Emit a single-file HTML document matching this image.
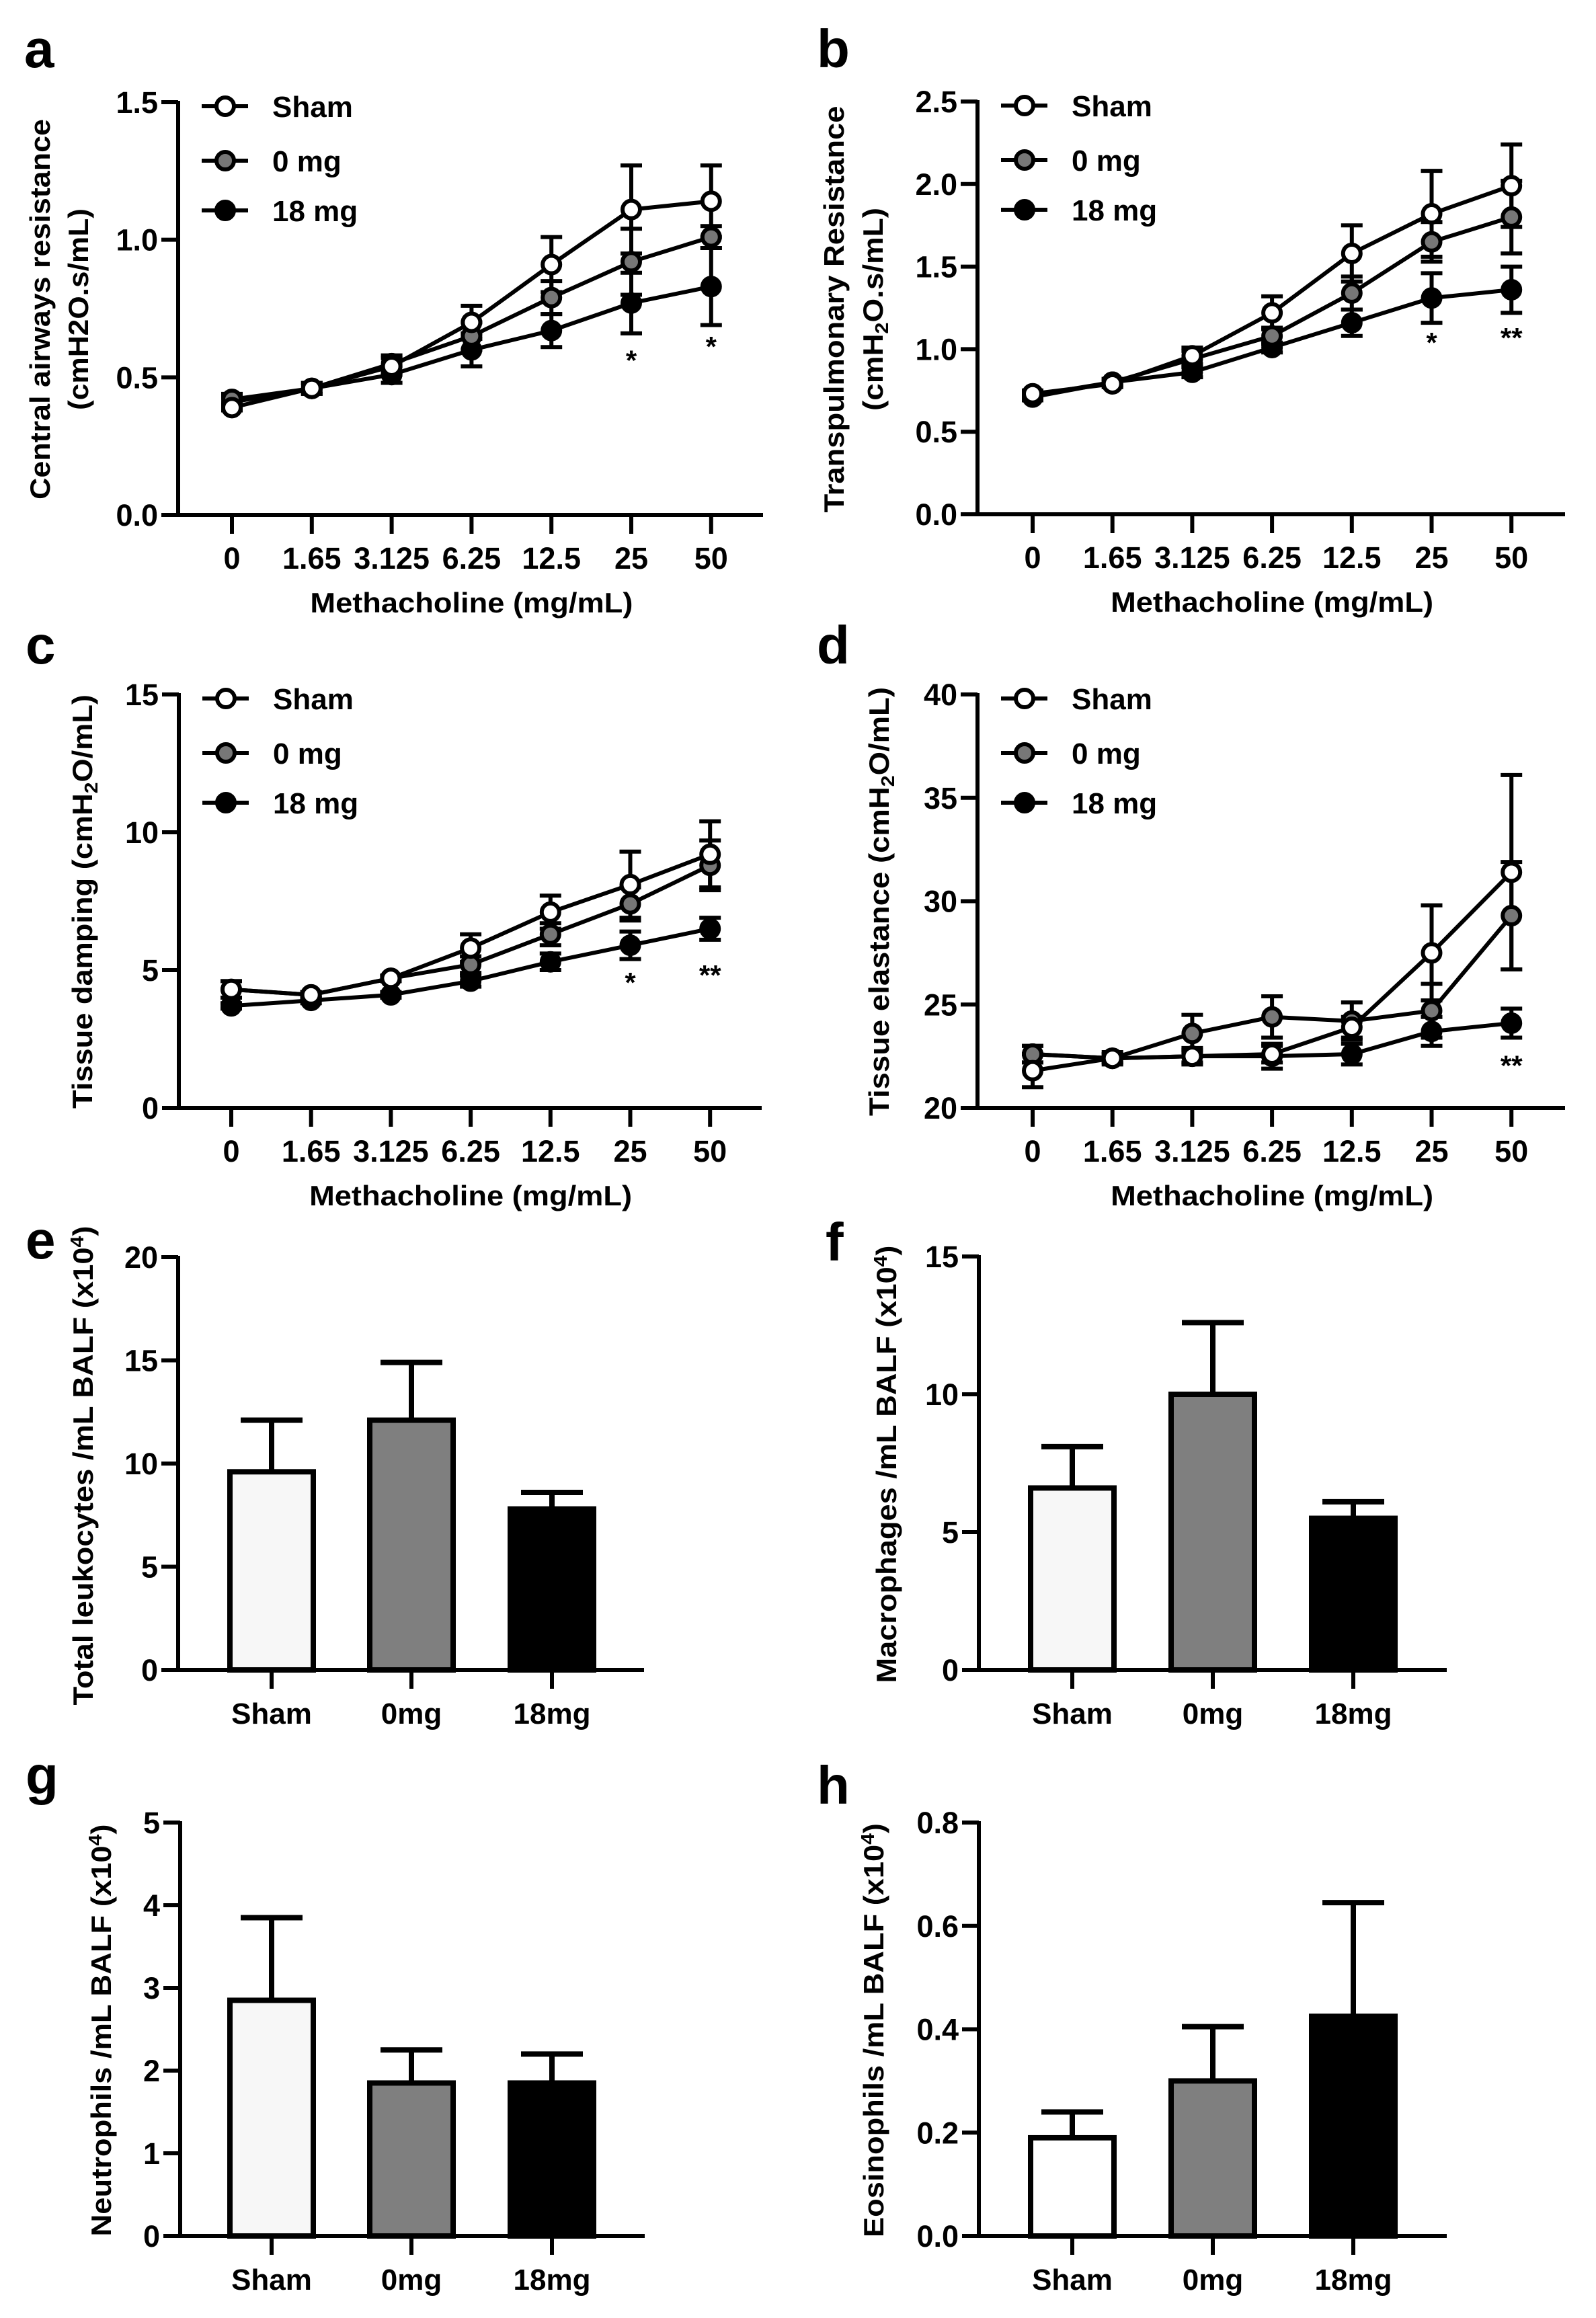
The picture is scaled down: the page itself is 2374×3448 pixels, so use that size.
<!DOCTYPE html>
<html><head><meta charset="utf-8">
<style>
html,body{margin:0;padding:0;background:#fff;}
svg{display:block;}
text{font-family:"Liberation Sans",Arial,sans-serif;font-weight:bold;fill:#000;}
</style></head>
<body>
<svg id="s" width="2374" height="3448" viewBox="0 0 2374 3448" xmlns="http://www.w3.org/2000/svg">
<rect width="2374" height="3448" fill="#fff"/>
</svg>
<script>
const NS="http://www.w3.org/2000/svg";
const S=document.getElementById('s');
function el(t,a,txt){const e=document.createElementNS(NS,t);for(const k in a)e.setAttribute(k,a[k]);if(txt!==undefined)e.textContent=txt;S.appendChild(e);return e;}
function line(x1,y1,x2,y2,w){el('line',{x1,y1,x2,y2,stroke:'#000','stroke-width':w||5});}
function txt(x,y,s,size,anchor,extra){const a={x,y,'font-size':size,'text-anchor':anchor||'middle'};Object.assign(a,extra||{});return el('text',a,s);}
const COL=['#fff','#777','#000'];
const NAMES=['Sham','0 mg','18 mg'];
function ylab(x,cy,lines,len){
  lines.forEach((l,i)=>{
    const t=el('text',{x:0,y:0,'font-size':42,'text-anchor':'middle',transform:`translate(${x[i]},${cy}) rotate(-90)`,textLength:len[i],lengthAdjust:'spacingAndGlyphs'});
    l.forEach(p=>{const ts=document.createElementNS(NS,'tspan');
      if(p.sub){ts.setAttribute('font-size',28);}else{ts.setAttribute('font-size',42);}
      if(p.dy)ts.setAttribute('dy',p.dy);
      ts.textContent=p.t;t.appendChild(ts);});
  });
}
function linePanel(P){
  const {L,yT,yB,x0,step,R,min,max,ticks,data,err,stars,letter,lx,ly}=P;
  const Y=v=>yB-(v-min)/(max-min)*(yB-yT);
  txt(lx,ly,letter,80,'start');
  line(L,yT-2,L,yB+3,6);line(L-2,yB,R,yB,6);
  ticks.forEach(t=>{line(L-25,Y(t),L,Y(t),6);txt(L-30,Y(t)+16,P.fmt(t),45,'end');});
  const xl=['0','1.65','3.125','6.25','12.5','25','50'];
  xl.forEach((s,i)=>{const x=x0+i*step;line(x,yB,x,yB+28,6);txt(x,yB+80,s,45);});
  txt(x0+3*step,yB+145,'Methacholine (mg/mL)',42,'middle',{textLength:480,lengthAdjust:'spacingAndGlyphs'});
  [2,1,0].forEach(k=>{
    data[k].forEach((v,i)=>{const x=x0+i*step;const e=err[k][i];
      line(x,Y(v-e),x,Y(v+e),6);line(x-16,Y(v+e),x+16,Y(v+e),6);line(x-16,Y(v-e),x+16,Y(v-e),6);});
  });
  [2,1,0].forEach(k=>{
    const pts=data[k].map((v,i)=>(x0+i*step)+','+Y(v)).join(' ');
    el('polyline',{points:pts,fill:'none',stroke:'#000','stroke-width':6});
    data[k].forEach((v,i)=>el('circle',{cx:x0+i*step,cy:Y(v),r:13,fill:COL[k],stroke:'#000','stroke-width':6}));
  });
  stars.forEach(s=>txt(x0+s[0]*step,Y(s[1])+22,s[2],42));
  [6,87,161].forEach((o,k)=>{const y=yT+o;line(L+35,y,L+104,y,6);el('circle',{cx:L+70,cy:y,r:13,fill:COL[k],stroke:'#000','stroke-width':6});txt(L+140,y+16,NAMES[k],44,'start');});
}
function barPanel(P){
  const {L,yT,yB,xs,R,max,ticks,vals,errs,letter,lx,ly,cols}=P;
  const Y=v=>yB-v/max*(yB-yT);
  txt(lx,ly,letter,80,'start');
  const hw=62;
  vals.forEach((v,i)=>{const x=xs[i];
    line(x,Y(v),x,Y(errs[i]),8);line(x-46,Y(errs[i]),x+46,Y(errs[i]),8);
    el('rect',{x:x-hw,y:Y(v),width:2*hw,height:yB-Y(v),fill:cols[i],stroke:'#000','stroke-width':8});
  });
  line(L,yT-2,L,yB+3,6);line(L-2,yB,R,yB,6);
  ticks.forEach(t=>{line(L-25,Y(t),L,Y(t),6);txt(L-30,Y(t)+16,P.fmt(t),45,'end');});
  ['Sham','0mg','18mg'].forEach((s,i)=>{line(xs[i],yB,xs[i],yB+28,6);txt(xs[i],yB+80,s,44);});
}
const f1=t=>t.toFixed(1), f0=t=>String(t);
linePanel({L:265,yT:152,yB:766,x0:345,step:118.8,R:1135,min:0,max:1.5,ticks:[0,0.5,1,1.5],fmt:f1,letter:'a',lx:36,ly:100,
 data:[[0.39,0.46,0.54,0.70,0.91,1.11,1.14],[0.42,0.46,0.55,0.65,0.79,0.92,1.01],[0.41,0.46,0.51,0.60,0.67,0.77,0.83]],
 err:[[0.01,0.01,0.03,0.06,0.10,0.16,0.13],[0.02,0.02,0.03,0.05,0.06,0.12,0.04],[0.02,0.02,0.03,0.06,0.06,0.11,0.14]],
 stars:[[5,0.58,'*'],[6,0.63,'*']]});
ylab([74,131],460,[[{t:'Central airways resistance'}],[{t:'(cmH2O.s/mL)'}]],[566,300]);
linePanel({L:1454,yT:151,yB:765,x0:1536,step:118.7,R:2328,min:0,max:2.5,ticks:[0,0.5,1,1.5,2,2.5],fmt:f1,letter:'b',lx:1215,ly:100,
 data:[[0.73,0.79,0.96,1.22,1.58,1.82,1.99],[0.72,0.80,0.94,1.08,1.34,1.65,1.80],[0.71,0.80,0.86,1.01,1.16,1.31,1.36]],
 err:[[0.02,0.02,0.05,0.10,0.17,0.26,0.25],[0.02,0.02,0.05,0.05,0.10,0.12,0.22],[0.02,0.02,0.03,0.03,0.08,0.15,0.14]],
 stars:[[5,1.07,'*'],[6,1.1,'**']]});
ylab([1255,1313],460,[[{t:'Transpulmonary Resistance'}],[{t:'(cmH'},{t:'2',sub:1,dy:8},{t:'O.s/mL)',dy:-8}]],[605,302]);
linePanel({L:266,yT:1033,yB:1648,x0:344,step:118.7,R:1133,min:0,max:15,ticks:[0,5,10,15],fmt:f0,letter:'c',lx:38,ly:987,
 data:[[4.3,4.1,4.7,5.8,7.1,8.1,9.2],[4.3,4.1,4.7,5.2,6.3,7.4,8.8],[3.7,3.9,4.1,4.6,5.3,5.9,6.5]],
 err:[[0.3,0.1,0.1,0.5,0.6,1.2,1.2],[0.3,0.1,0.1,0.3,0.4,0.6,0.9],[0.1,0.1,0.1,0.2,0.3,0.5,0.4]],
 stars:[[5,4.73,'*'],[6,5.0,'**']]});
ylab([137],1341,[[{t:'Tissue damping (cmH'},{t:'2',sub:1,dy:8},{t:'O/mL)',dy:-8}]],[616]);
linePanel({L:1454,yT:1033,yB:1648,x0:1536,step:118.7,R:2328,min:20,max:40,ticks:[20,25,30,35,40],fmt:f0,letter:'d',lx:1215,ly:987,
 data:[[21.8,22.4,22.5,22.6,23.9,27.5,31.4],[22.6,22.4,23.6,24.4,24.2,24.7,29.3],[22.6,22.4,22.5,22.5,22.6,23.7,24.1]],
 err:[[0.8,0.2,0.3,0.4,0.5,2.3,4.7],[0.4,0.2,0.9,1.0,0.9,1.3,2.6],[0.4,0.3,0.4,0.6,0.5,0.7,0.7]],
 stars:[[6,22.3,'**']]});
ylab([1322],1341,[[{t:'Tissue elastance (cmH'},{t:'2',sub:1,dy:8},{t:'O/mL)',dy:-8}]],[638]);
barPanel({L:265,yT:1870,yB:2484,xs:[404,612,821],R:958,max:20,ticks:[0,5,10,15,20],fmt:f0,letter:'e',lx:38,ly:1872,
 vals:[9.6,12.1,7.8],errs:[12.1,14.9,8.6],cols:['#f7f7f7','#7f7f7f','#000']});
ylab([138],2180,[[{t:'Total leukocytes /mL BALF (x10'},{t:'4',sub:1,dy:-14},{t:')',dy:14}]],[713]);
barPanel({L:1456,yT:1869,yB:2484,xs:[1595,1804,2013],R:2152,max:15,ticks:[0,5,10,15],fmt:f0,letter:'f',lx:1228,ly:1875,
 vals:[6.6,10.0,5.5],errs:[8.1,12.6,6.1],cols:['#f7f7f7','#7f7f7f','#000']});
ylab([1333],2178,[[{t:'Macrophages /mL BALF (x10'},{t:'4',sub:1,dy:-14},{t:')',dy:14}]],[651]);
barPanel({L:268,yT:2711,yB:3326,xs:[404,612,821],R:959,max:5,ticks:[0,1,2,3,4,5],fmt:f0,letter:'g',lx:38,ly:2668,
 vals:[2.85,1.85,1.85],errs:[3.85,2.25,2.2],cols:['#f7f7f7','#7f7f7f','#000']});
ylab([165],3020,[[{t:'Neutrophils /mL BALF (x10'},{t:'4',sub:1,dy:-14},{t:')',dy:14}]],[613]);
barPanel({L:1456,yT:2711,yB:3326,xs:[1595,1804,2013],R:2152,max:0.8,ticks:[0,0.2,0.4,0.6,0.8],fmt:f1,letter:'h',lx:1215,ly:2683,
 vals:[0.19,0.30,0.425],errs:[0.24,0.405,0.645],cols:['#fff','#7f7f7f','#000']});
ylab([1314],3020,[[{t:'Eosinophils /mL BALF (x10'},{t:'4',sub:1,dy:-14},{t:')',dy:14}]],[616]);
</script>
</body></html>
